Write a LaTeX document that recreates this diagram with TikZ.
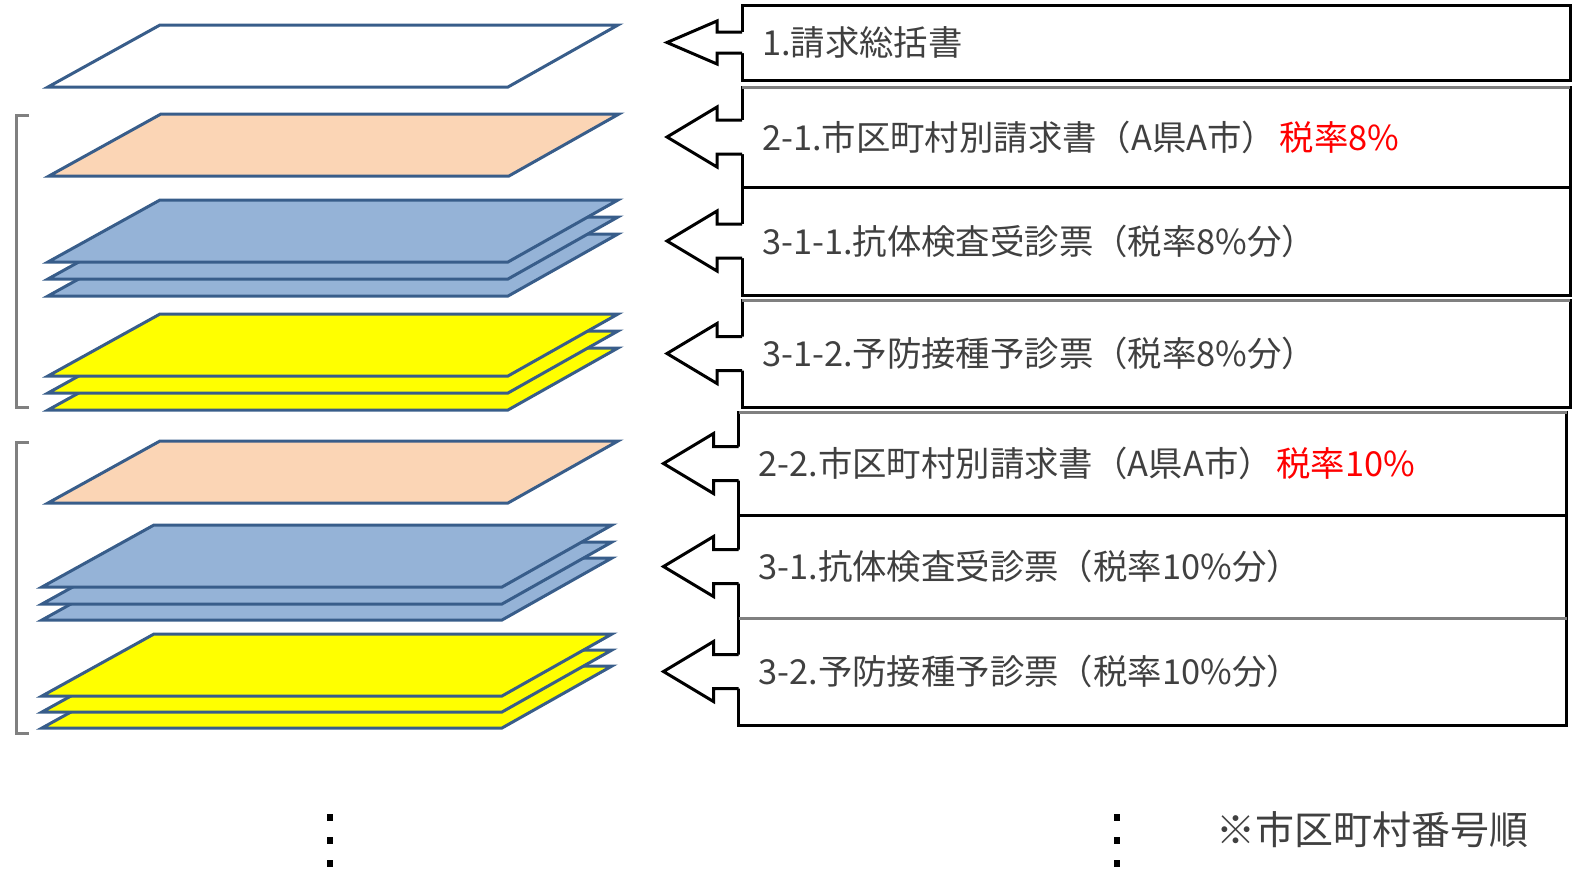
\documentclass[tikz,border=0pt]{standalone}
\usepackage{fontspec}
\setmainfont{Noto Sans CJK JP}
\usetikzlibrary{positioning}
\definecolor{sheetline}{RGB}{56,93,138}
\definecolor{sheetblue}{RGB}{149,179,215}
\definecolor{sheetpeach}{RGB}{251,213,181}
\definecolor{sheetyellow}{RGB}{255,255,0}
\definecolor{linegray}{RGB}{128,128,128}
\definecolor{txtgray}{RGB}{64,64,64}

% one sheet of paper, bottom-left corner at (#1,#2)
\newcommand{\sheet}[3]{\filldraw[sheet, fill=#3] (#1,#2) -- ++(460,0) -- ++(110,-62) -- ++(-458,0) -- cycle;}
% left arrow out of a box: node, shaft half, head half
\newcommand{\callarrow}[3]{%
  \fill[white] ([shift={(2,-#2)}]#1.west) -- ++(-27,0) -- ++(0,{-(#3-#2)}) -- ++(-50,#3) -- ++(50,#3) -- ++(0,{-(#3-#2)}) -- ++(27,0) -- cycle;
  \draw[callout] ([shift={(0,-#2)}]#1.west) -- ++(-25,0) -- ++(0,{-(#3-#2)}) -- ++(-50,#3) -- ++(50,#3) -- ++(0,{-(#3-#2)}) -- ++(25,0);}

\begin{document}
\begin{tikzpicture}[
    x=0.5pt, y=-0.5pt,
    sheet/.style={draw=sheetline, line width=1.5pt, line join=miter},
    box/.style={rectangle, draw=black, line width=1.5pt, outer sep=0pt, text width=394pt, inner xsep=10pt, align=left, font=\fontsize{17.2pt}{20pt}\selectfont, text=txtgray},
    grayline/.style={draw=linegray, line width=1.5pt},
    callout/.style={draw=black, line width=1.5pt, line join=miter},
    bracket/.style={draw=linegray, line width=1.5pt}
]
    \useasboundingbox (0,0) rectangle (1575,868);

    \sheet{48}{87}{white}
    \sheet{49}{176}{sheetpeach}
    \sheet{48}{296}{sheetblue}
    \sheet{48}{279}{sheetblue}
    \sheet{48}{262}{sheetblue}
    \sheet{48}{410}{sheetyellow}
    \sheet{48}{393}{sheetyellow}
    \sheet{48}{376}{sheetyellow}
    \sheet{48}{503}{sheetpeach}
    \sheet{42}{620}{sheetblue}
    \sheet{42}{604}{sheetblue}
    \sheet{42}{587}{sheetblue}
    \sheet{42}{728}{sheetyellow}
    \sheet{42}{712}{sheetyellow}
    \sheet{42}{696}{sheetyellow}

    \draw[bracket] (29,115) -- (16,115) -- (16,407) -- (29,407);
    \draw[bracket] (29,442) -- (16,442) -- (16,733) -- (29,733);

    \node[box, minimum height=37.5pt, anchor=north west] (r1) at (742,5) {1.請求総括書};
    \node[box, minimum height=50pt, below=3.5pt of r1] (r2) {2-1.市区町村別請求書（A県A市）\hspace{0.1em}\textcolor{red}{税率8\%}};
    \node[box, minimum height=54pt, below=0pt of r2] (r3) {3-1-1.抗体検査受診票（税率8\%分）};
    \node[box, minimum height=53.5pt, below=2.5pt of r3] (r4) {3-1-2.予防接種予診票（税率8\%分）};
    \node[box, minimum height=51.5pt, below=2.5pt of r4, xshift=-1.75pt] (r5) {2-2.市区町村別請求書（A県A市）\hspace{0.1em}\textcolor{red}{税率10\%}};
    \node[box, minimum height=51.5pt, below=0pt of r5] (r6) {3-1.抗体検査受診票（税率10\%分）};
    \node[box, minimum height=53.5pt, below=0pt of r6] (r7) {3-2.予防接種予診票（税率10\%分）};

    \draw[grayline] (r2.north west) -- (r2.north east);
    \draw[grayline] (r4.north west) -- (r4.north east);
    \draw[grayline] (r5.north west) -- (r5.north east);
    \draw[grayline] (r6.south west) -- (r6.south east);

    \callarrow{r1}{10.5}{21.5}
    \callarrow{r2}{17}{30}
    \callarrow{r3}{17}{30}
    \callarrow{r4}{17}{30}
    \callarrow{r5}{17}{30}
    \callarrow{r6}{17}{30}
    \callarrow{r7}{17}{30}

    \foreach \y in {814,837,860} {
        \fill (327,\y) rectangle ++(6,7);
        \fill (1114,\y) rectangle ++(6,7);
    }
    \node[font=\fontsize{19.5pt}{22pt}\selectfont, text=txtgray] (note) at (1372,830) {※市区町村番号順};
\end{tikzpicture}
\end{document}
